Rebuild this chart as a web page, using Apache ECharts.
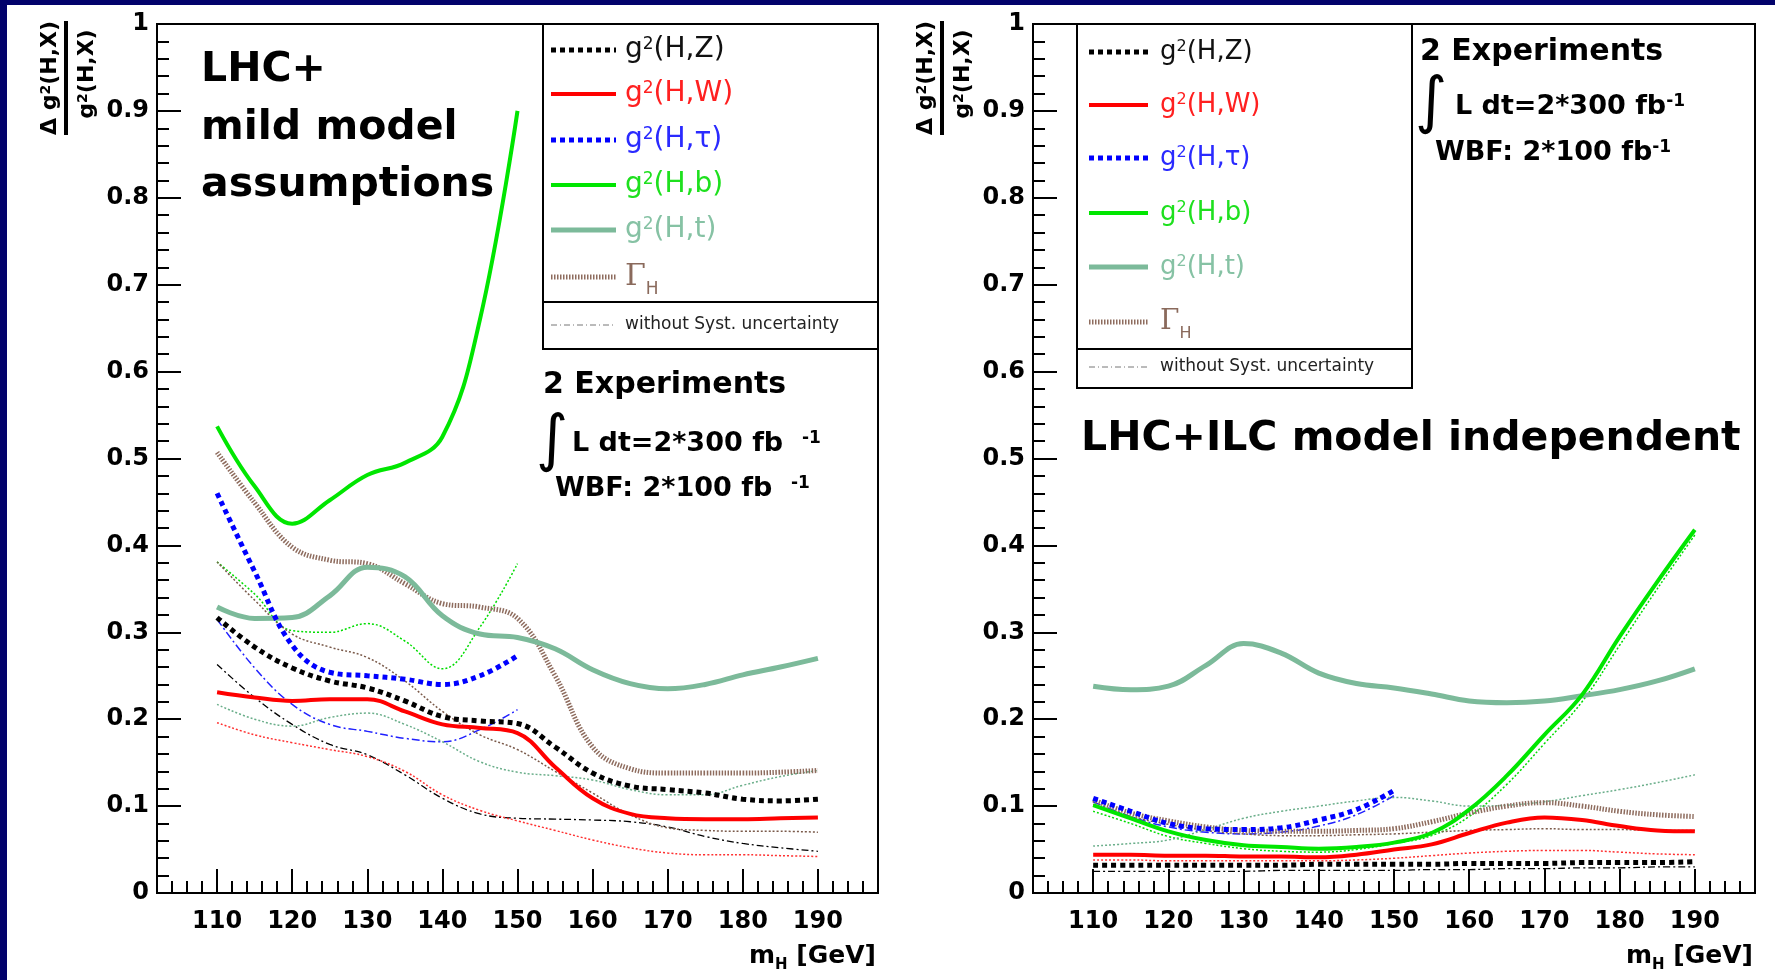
<!DOCTYPE html>
<html><head><meta charset="utf-8">
<script src="https://cdn.jsdelivr.net/npm/echarts@6/dist/echarts.min.js"></script>
<style>html,body{margin:0;padding:0;background:#fff}#c{width:1775px;height:980px}</style>
</head><body><div id="c"></div>
<script>
// ---- data ----
const MH = [110,115,120,125,130,135,140,145,150,155,160,165,170,175,180,185,190];
const X_TICKS = [110,120,130,140,150,160,170,180,190];
const X_MINOR = [];
for (let v = 102; v <= 198; v += 2) X_MINOR.push(v);

// LHC+ mild model assumptions (left)
const Z_L   = [.317,.283,.259,.244,.236,.221,.203,.198,.195,.168,.138,.123,.119,.115,.108,.106,.108];
const W_L   = [.231,.225,.221,.223,.223,.209,.194,.190,.184,.145,.109,.091,.086,.085,.085,.086,.087];
const TAU_L = [.460,.370,.285,.254,.250,.246,.240,.250,.273];
const B_L   = [.537,.468,.425,.452,.481,.495,.525,.660,.900];
const T_L   = [.329,.316,.317,.342,.375,.364,.319,.298,.294,.281,.257,.241,.235,.240,.251,.260,.270];
const G_L   = [.507,.449,.398,.383,.379,.356,.333,.329,.316,.250,.168,.143,.138,.138,.138,.139,.141];
const Zn_L  = [.263,.225,.194,.171,.159,.136,.109,.091,.086,.085,.084,.082,.076,.065,.057,.052,.048];
const Wn_L  = [.196,.182,.173,.165,.157,.140,.113,.095,.083,.072,.061,.052,.046,.044,.044,.043,.042];
const TAUn_L= [.315,.259,.217,.194,.186,.178,.174,.188,.211];
const Bn_L  = [.381,.344,.302,.300,.310,.290,.258,.306,.379];
const Tn_L  = [.217,.200,.192,.202,.207,.194,.174,.151,.139,.135,.130,.119,.113,.113,.124,.134,.141];
const Gn_L  = [.381,.337,.298,.283,.271,.244,.209,.182,.165,.140,.115,.090,.075,.072,.071,.071,.070];

// LHC+ILC model independent (right)
const Z_R   = [.032,.032,.032,.032,.032,.032,.033,.033,.033,.033,.034,.034,.034,.035,.035,.035,.036];
const W_R   = [.044,.044,.043,.043,.042,.042,.041,.044,.050,.056,.069,.081,.087,.084,.077,.072,.071];
const TAU_R = [.109,.094,.080,.074,.073,.075,.084,.096,.118];
const B_R   = [.101,.086,.071,.061,.055,.053,.051,.053,.058,.069,.096,.135,.182,.228,.295,.358,.418];
const T_R   = [.238,.234,.238,.262,.287,.276,.253,.241,.236,.229,.221,.219,.221,.227,.234,.244,.258];
const G_R   = [.107,.092,.083,.076,.072,.071,.071,.072,.074,.082,.092,.100,.104,.100,.094,.090,.088];
const Zn_R  = [.025,.025,.025,.025,.025,.026,.026,.026,.026,.027,.027,.028,.028,.029,.029,.030,.030];
const Wn_R  = [.038,.038,.037,.037,.037,.037,.037,.038,.040,.043,.046,.048,.049,.049,.047,.045,.044];
const TAUn_R= [.105,.088,.076,.070,.068,.070,.077,.090,.112];
const Bn_R  = [.094,.080,.065,.057,.051,.048,.047,.050,.057,.066,.088,.125,.172,.220,.285,.350,.412];
const Tn_R  = [.054,.057,.061,.073,.086,.094,.100,.106,.110,.106,.100,.101,.105,.112,.119,.127,.136];
const Gn_R  = [.102,.088,.079,.072,.068,.066,.066,.067,.068,.070,.072,.073,.074,.073,.073,.072,.072];

// ---- styles ----
const ST = {
  Z:   {color:'#000000', width:5, type:[5,4]},
  W:   {color:'#ff0000', width:4, type:'solid'},
  TAU: {color:'#0000ff', width:5, type:[5,4]},
  B:   {color:'#00e600', width:4, type:'solid'},
  T:   {color:'#7cba9a', width:5, type:'solid'},
  G:   {color:'#8e6c5e', width:5, type:[1.5,1.5]},
  Zn:  {color:'#000000', width:1.3, type:[7,3,2,3]},
  Wn:  {color:'#ff3030', width:1.5, type:[2,2]},
  TAUn:{color:'#2020ff', width:1.5, type:[8,3,2,3]},
  Bn:  {color:'#00dd00', width:1.5, type:[2,2]},
  Tn:  {color:'#6aae8a', width:1.5, type:[2,2]},
  Gn:  {color:'#7a5a4a', width:1.5, type:[2,2]}
};

function pts(vals){ return vals.map((v,i)=>[MH[i], v]); }
function ser(name, vals, st, idx){
  return {name, type:'line', xAxisIndex: idx*2, yAxisIndex: idx, data: pts(vals),
    symbol:'none', showSymbol:false, smooth:0.4, silent:true,
    lineStyle:{color:st.color, width:st.width, type:st.type, cap:'butt'}, z: st.width>2?4:3};
}
const series = [
  ser('Zn L', Zn_L, ST.Zn, 0), ser('Wn L', Wn_L, ST.Wn, 0), ser('TAUn L', TAUn_L, ST.TAUn, 0),
  ser('Bn L', Bn_L, ST.Bn, 0), ser('Tn L', Tn_L, ST.Tn, 0), ser('Gn L', Gn_L, ST.Gn, 0),
  ser('G L', G_L, ST.G, 0), ser('T L', T_L, ST.T, 0), ser('B L', B_L, ST.B, 0),
  ser('TAU L', TAU_L, ST.TAU, 0), ser('W L', W_L, ST.W, 0), ser('Z L', Z_L, ST.Z, 0),
  ser('Zn R', Zn_R, ST.Zn, 1), ser('Wn R', Wn_R, ST.Wn, 1), ser('TAUn R', TAUn_R, ST.TAUn, 1),
  ser('Bn R', Bn_R, ST.Bn, 1), ser('Tn R', Tn_R, ST.Tn, 1), ser('Gn R', Gn_R, ST.Gn, 1),
  ser('G R', G_R, ST.G, 1), ser('T R', T_R, ST.T, 1), ser('B R', B_R, ST.B, 1),
  ser('TAU R', TAU_R, ST.TAU, 1), ser('W R', W_R, ST.W, 1), ser('Z R', Z_R, ST.Z, 1)
];

// ---- layout ----
const GRIDS = [{left:157, top:24, width:721, height:869}, {left:1033, top:24, width:722, height:869}];
const FONT = 'DejaVu Sans';

function xAxes(gi){
  return [{
    gridIndex: gi, type:'value', min:102, max:198, position:'bottom',
    axisLine:{show:true, onZero:false, lineStyle:{color:'#000', width:2}},
    axisTick:{show:true, inside:true, length:24, customValues:X_TICKS, lineStyle:{color:'#000', width:2}},
    axisLabel:{show:true, customValues:X_TICKS, margin:17, color:'#000', fontFamily:FONT, fontWeight:'bold', fontSize:24},
    splitLine:{show:false}
  },{
    gridIndex: gi, type:'value', min:102, max:198, position:'bottom',
    axisLine:{show:false},
    axisTick:{show:true, inside:true, length:12, customValues:X_MINOR, lineStyle:{color:'#000', width:2}},
    axisLabel:{show:false}, splitLine:{show:false}
  }];
}
function yAxis(gi){
  return {gridIndex: gi, type:'value', min:0, max:1, interval:0.1,
    axisLine:{show:true, onZero:false, lineStyle:{color:'#000', width:2}},
    axisTick:{show:true, inside:true, length:24, lineStyle:{color:'#000', width:2}},
    minorTick:{show:true, splitNumber:5, length:12, lineStyle:{color:'#000', width:2}},
    axisLabel:{margin:8, color:'#000', fontFamily:FONT, fontWeight:'bold', fontSize:24},
    splitLine:{show:false}, minorSplitLine:{show:false}};
}

// ---- graphics (legends, annotations) ----
const G = [];
function text(x, y, rich, textStr, o){
  o = o || {};
  G.push({type:'text', x, y, z:120, rotation:o.rot||0, silent:true,
    style:{text:textStr, rich, fill:o.fill||'#000', fontFamily:o.ff||FONT, fontSize:o.fs||24,
      fontWeight:o.fw||'normal', align:o.align||'left', verticalAlign:o.va||'middle'}});
}
function line(x1,y1,x2,y2,stroke,lw,dash){
  G.push({type:'line', z:115, silent:true, shape:{x1,y1,x2,y2},
    style:{stroke, lineWidth:lw, lineDash:dash||null}});
}
function rect(x,y,w,h,fill,stroke,lw,z){
  G.push({type:'rect', z:z||110, silent:true, shape:{x,y,width:w,height:h},
    style:{fill, stroke:stroke||null, lineWidth:lw||0}});
}

const LEG = [
  {k:'Z', lbl:'(H,Z)', col:'#111111'},
  {k:'W', lbl:'(H,W)', col:'#ff2020'},
  {k:'TAU', lbl:'(H,τ)', col:'#2a2aff'},
  {k:'B', lbl:'(H,b)', col:'#1ee01e'},
  {k:'T', lbl:'(H,t)', col:'#86c2a4'},
  {k:'G', lbl:null, col:'#8a6a5c'}
];
function legend(box, sx1, sx2, tx, ys, yw, fs){
  rect(box.x, box.y, box.w, box.h, '#fff', '#000', 2, 105);
  line(box.x, box.div, box.x+box.w, box.div, '#000', 2);
  LEG.forEach((e,i)=>{
    const st = ST[e.k];
    line(sx1, ys[i], sx2, ys[i], st.color, st.width, st.type==='solid'?null:st.type);
    if (e.lbl){
      text(tx, ys[i], {
        n:{fontSize:fs, fontFamily:FONT, fill:e.col},
        s:{fontSize:Math.round(fs*0.6), fontFamily:FONT, fill:e.col, verticalAlign:'top', lineHeight:Math.round(fs*0.7)}
      }, '{n|g}{s|2}{n|'+e.lbl+'}', {fs, fill:e.col});
    } else {
      text(tx, ys[i], {
        g:{fontSize:fs+2, fontFamily:'DejaVu Serif', fill:e.col},
        h:{fontSize:Math.round(fs*0.62), fontFamily:FONT, fill:e.col, verticalAlign:'bottom', padding:[0,0,-6,0]}
      }, '{g|Γ}{h|H}', {fs, fill:e.col});
    }
  });
  line(sx1, yw, sx2, yw, '#777', 1, [6,3,1,3]);
  text(tx, yw, null, 'without Syst. uncertainty', {fs:17, fill:'#222'});
}
legend({x:543, y:24, w:335, h:325, div:302}, 551, 616, 625, [50,94,140,185,230,277], 325, 28);
legend({x:1077, y:24, w:335, h:364, div:349}, 1089, 1148, 1160, [52,105,158,213,267,322], 367, 26);

// y-axis titles (fraction)
function ytitle(frameLeft){
  const richT = {
    n:{fontSize:22, fontFamily:FONT, fontWeight:'bold', fill:'#000'},
    s:{fontSize:14, fontFamily:FONT, fontWeight:'bold', fill:'#000', verticalAlign:'top', lineHeight:14}
  };
  text(frameLeft-107, 78, richT, '{n|Δ g}{s|2}{n|(H,X)}', {rot:Math.PI/2, align:'center', fs:22, fw:'bold'});
  G.push({type:'rect', z:120, silent:true, shape:{x:frameLeft-93, y:21, width:4, height:114}, style:{fill:'#000'}});
  text(frameLeft-70, 74, richT, '{n|g}{s|2}{n|(H,X)}', {rot:Math.PI/2, align:'center', fs:22, fw:'bold'});
}
ytitle(157); ytitle(1033);

// x-axis names
const richM = {
  n:{fontSize:25, fontFamily:FONT, fontWeight:'bold', fill:'#000'},
  h:{fontSize:15, fontFamily:FONT, fontWeight:'bold', fill:'#000', verticalAlign:'bottom', padding:[0,0,-4,0]}
};
text(876, 956, richM, '{n|m}{h|H}{n| [GeV]}', {align:'right', fs:25, fw:'bold'});
text(1753, 956, richM, '{n|m}{h|H}{n| [GeV]}', {align:'right', fs:25, fw:'bold'});

// annotations
text(201, 70, null, 'LHC+', {fs:41, fw:'bold'});
text(201, 128, null, 'mild model', {fs:41, fw:'bold'});
text(201, 185, null, 'assumptions', {fs:41, fw:'bold'});
text(1081, 439, null, 'LHC+ILC model independent', {fs:41, fw:'bold'});

function lumi(x0, yExp, xInt, yInt, xL, yL, xW, yW, gap){
  const r = {
    m:{fontSize:27, fontFamily:FONT, fontWeight:'bold', fill:'#000'},
    s:{fontSize:17, fontFamily:FONT, fontWeight:'bold', fill:'#000', verticalAlign:'top', lineHeight:17}
  };
  text(x0, yExp, null, '2 Experiments', {fs:30, fw:'bold'});
  text(xInt, yInt, null, '∫', {fs:62, align:'center', ff:'DejaVu Sans'});
  text(xL, yL, r, '{m|L dt=2*300 fb'+gap+'}{s|-1}', {fs:27, fw:'bold'});
  text(xW, yW, r, '{m|WBF: 2*100 fb'+gap+'}{s|-1}', {fs:27, fw:'bold'});
}
lumi(543, 385, 552, 443, 572, 444, 555, 489, '  ');
lumi(1420, 52, 1431, 105, 1455, 107, 1435, 153, '');

// navy slide border
rect(0, 0, 1775, 5, '#02026b', null, 0, 200);
rect(0, 0, 7, 980, '#02026b', null, 0, 200);

const chart = echarts.init(document.getElementById('c'));
chart.setOption({
  animation:false,
  backgroundColor:'#ffffff',
  grid: GRIDS.map(g=>Object.assign({show:true, borderColor:'#000', borderWidth:2, backgroundColor:'transparent', containLabel:false}, g)),
  xAxis: [].concat(xAxes(0), xAxes(1)),
  yAxis: [yAxis(0), yAxis(1)],
  series,
  graphic: G
});
</script>
</body></html>
